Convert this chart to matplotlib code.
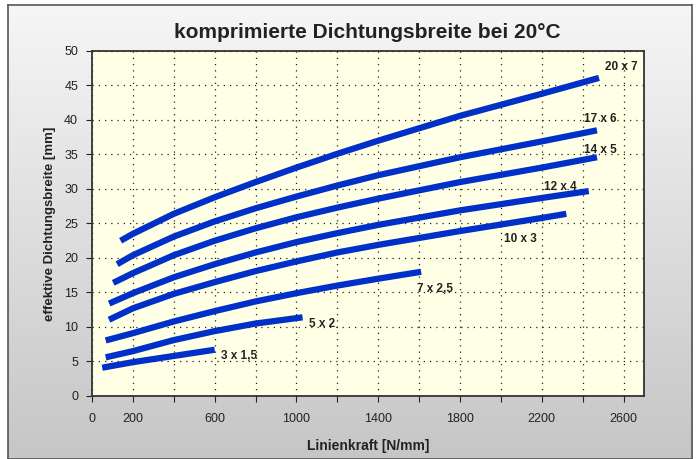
import numpy as np
import matplotlib
matplotlib.use("Agg")
import matplotlib.pyplot as plt
from matplotlib.colors import LinearSegmentedColormap

plt.rcParams['font.family'] = ['Liberation Sans Narrow', 'Liberation Sans', 'DejaVu Sans']

# data (Linienkraft N/mm -> Dichtungsbreite mm)
names = ["20 x 7", "17 x 6", "14 x 5", "12 x 4", "10 x 3", "7 x 2,5", "5 x 2", "3 x 1,5"]
x_20x7 = [140, 200, 400, 600, 800, 1000, 1200, 1400, 1800, 2200, 2480]
y_20x7 = [22.5, 23.5, 26.4, 28.8, 31.0, 33.1, 35.1, 37.0, 40.6, 43.8, 46.1]
x_17x6 = [123, 200, 400, 600, 800, 1000, 1200, 1400, 1800, 2200, 2470]
y_17x6 = [19.1, 20.4, 23.1, 25.3, 27.2, 28.9, 30.5, 32.0, 34.6, 36.9, 38.5]
x_14x5 = [104, 200, 400, 600, 800, 1000, 1200, 1400, 1800, 2200, 2470]
y_14x5 = [16.4, 17.8, 20.4, 22.5, 24.3, 25.9, 27.3, 28.6, 31.0, 33.1, 34.6]
x_12x4 = [84, 200, 400, 600, 800, 1000, 1200, 1400, 1800, 2200, 2430]
y_12x4 = [13.4, 14.9, 17.2, 19.1, 20.8, 22.3, 23.6, 24.8, 26.9, 28.7, 29.7]
x_10x3 = [83, 200, 400, 600, 800, 1000, 1200, 1400, 1800, 2200, 2320]
y_10x3 = [11.05, 12.7, 14.8, 16.5, 18.1, 19.5, 20.8, 21.9, 23.9, 25.8, 26.4]
x_7x25 = [67, 200, 400, 600, 800, 1000, 1200, 1400, 1610]
y_7x25 = [8.05, 9.1, 10.8, 12.3, 13.7, 14.9, 16.0, 17.0, 18.0]
x_5x2 = [67, 200, 400, 600, 800, 1030]
y_5x2 = [5.6, 6.5, 8.1, 9.4, 10.5, 11.4]
x_3x15 = [50, 200, 400, 600]
y_3x15 = [4.1, 4.9, 5.8, 6.7]

xs = [x_20x7, x_17x6, x_14x5, x_12x4, x_10x3, x_7x25, x_5x2, x_3x15]
ys = [y_20x7, y_17x6, y_14x5, y_12x4, y_10x3, y_7x25, y_5x2, y_3x15]

# label offsets (points) from each curve's end
label_off = [(4, 6), (-9, 6), (-9, 3), (-32, 1), (-44.5, -20), (-3, -14.5), (4.5, -7), (4.5, -6.5)]

fig = plt.figure(figsize=(6.99, 4.59), dpi=100)
fig.patch.set_facecolor("#ffffff")

# gray panel with gradient in the background
bg = fig.add_axes([0.011, 0.0, 0.979, 0.99], zorder=-10)
grad = np.linspace(0, 1, 256).reshape(-1, 1)
cmap = LinearSegmentedColormap.from_list("panel", ["#f6f6f6", "#c6c6c6"])
bg.imshow(grad, aspect="auto", cmap=cmap, extent=[0, 1, 0, 1], origin="upper")
bg.set_xlim(0, 1)
bg.set_ylim(0, 1)
for s in bg.spines.values():
    s.set_edgecolor("#555555")
    s.set_linewidth(1.2)
bg.set_xticks([])
bg.set_yticks([])

ax = fig.add_axes([0.1316, 0.1373, 0.7897, 0.7516])
ax.set_facecolor("#ffffe6")

for x, y, name, off in zip(xs, ys, names, label_off):
    ax.plot(x, y, color="#0030c8", lw=4.5, solid_capstyle="butt",
            solid_joinstyle="round", zorder=3)
    ax.annotate(name, (x[-1], y[-1]), xytext=off, textcoords="offset points",
                fontsize=8.5, fontweight="bold", color="#222222", zorder=4)

ax.set_xlim(0, 2700)
ax.set_ylim(0, 50)
ax.set_xticks(range(0, 2700, 200))
ax.set_xticklabels([str(v) if v in (0, 200, 600, 1000, 1400, 1800, 2200, 2600) else ""
                    for v in range(0, 2700, 200)])
ax.set_yticks(range(0, 55, 5))
ax.grid(True, color="#222222", linestyle=(0, (1, 4)), linewidth=0.9)
ax.tick_params(axis="x", direction="out", length=4, pad=8, labelsize=9, colors="#222222")
ax.tick_params(axis="y", direction="out", length=4, pad=6, labelsize=9, colors="#222222")
for s in ax.spines.values():
    s.set_edgecolor("#333333")
    s.set_linewidth(1.3)

ax.set_xlabel("Linienkraft [N/mm]", fontsize=10, fontweight="bold", labelpad=10, color="#222222")
ax.set_ylabel("effektive Dichtungsbreite [mm]", fontsize=9.5, fontweight="bold", labelpad=6,
              color="#222222")
fig.text(0.525, 0.93, "komprimierte Dichtungsbreite bei 20°C", ha="center", va="center",
         fontsize=15, fontweight="bold", color="#222222")

fig.savefig("out.png", dpi=100)
